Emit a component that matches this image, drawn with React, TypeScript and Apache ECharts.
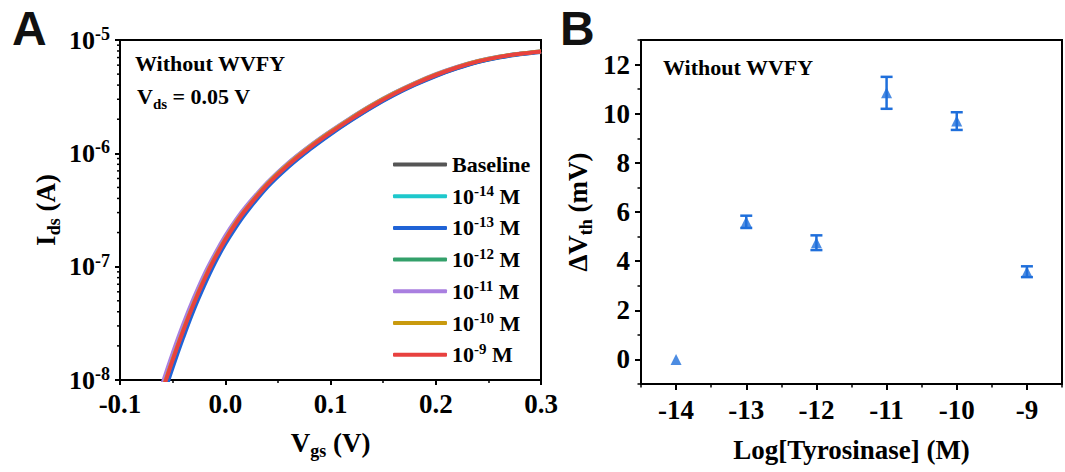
import React, { useEffect, useRef } from 'react';
import * as echarts from 'echarts';

// ---------- Panel A data ----------
const VGS = [-0.06, -0.05, -0.04, -0.03, -0.02, -0.01, 0, 0.01, 0.02, 0.04, 0.06, 0.08, 0.1, 0.12, 0.14, 0.16, 0.18, 0.2, 0.22, 0.24, 0.26, 0.28, 0.3];

const IDS_BASELINE = [7.6e-9, 1.45e-8, 2.62e-8, 4.53e-8, 7.4e-8, 1.14e-7, 1.67e-7, 2.33e-7, 3.12e-7, 5.14e-7, 7.71e-7, 1.09e-6, 1.49e-6, 1.98e-6, 2.59e-6, 3.28e-6, 4.04e-6, 4.85e-6, 5.65e-6, 6.41e-6, 7.03e-6, 7.5e-6, 7.86e-6];
const IDS_14 = [7.71e-9, 1.47e-8, 2.66e-8, 4.6e-8, 7.51e-8, 1.157e-7, 1.695e-7, 2.365e-7, 3.165e-7, 5.21e-7, 7.81e-7, 1.103e-6, 1.5e-6, 2.0e-6, 2.61e-6, 3.3e-6, 4.06e-6, 4.87e-6, 5.67e-6, 6.43e-6, 7.05e-6, 7.53e-6, 7.89e-6];
const IDS_13 = [6.69e-9, 1.28e-8, 2.35e-8, 4.13e-8, 6.8e-8, 1.07e-7, 1.58e-7, 2.22e-7, 3.0e-7, 5.03e-7, 7.57e-7, 1.074e-6, 1.47e-6, 1.96e-6, 2.56e-6, 3.25e-6, 4.0e-6, 4.8e-6, 5.6e-6, 6.37e-6, 6.99e-6, 7.46e-6, 7.83e-6];
const IDS_12 = [8.14e-9, 1.55e-8, 2.81e-8, 4.86e-8, 7.92e-8, 1.22e-7, 1.79e-7, 2.49e-7, 3.33e-7, 5.47e-7, 8.18e-7, 1.15e-6, 1.56e-6, 2.07e-6, 2.69e-6, 3.39e-6, 4.16e-6, 4.97e-6, 5.77e-6, 6.52e-6, 7.13e-6, 7.58e-6, 7.94e-6];
const IDS_11 = [9.16e-9, 1.73e-8, 3.11e-8, 5.28e-8, 8.53e-8, 1.29e-7, 1.87e-7, 2.59e-7, 3.43e-7, 5.54e-7, 8.27e-7, 1.16e-6, 1.57e-6, 2.08e-6, 2.7e-6, 3.41e-6, 4.18e-6, 5.0e-6, 5.8e-6, 6.55e-6, 7.15e-6, 7.6e-6, 7.95e-6];
const IDS_10 = [7.99e-9, 1.52e-8, 2.75e-8, 4.76e-8, 7.77e-8, 1.2e-7, 1.75e-7, 2.45e-7, 3.27e-7, 5.38e-7, 8.05e-7, 1.135e-6, 1.545e-6, 2.05e-6, 2.67e-6, 3.37e-6, 4.14e-6, 4.95e-6, 5.75e-6, 6.5e-6, 7.11e-6, 7.57e-6, 7.93e-6];
const IDS_9 = [7.83e-9, 1.49e-8, 2.7e-8, 4.67e-8, 7.62e-8, 1.175e-7, 1.72e-7, 2.4e-7, 3.21e-7, 5.28e-7, 7.91e-7, 1.117e-6, 1.52e-6, 2.02e-6, 2.63e-6, 3.33e-6, 4.09e-6, 4.9e-6, 5.7e-6, 6.46e-6, 7.08e-6, 7.55e-6, 7.91e-6];

const SERIES_NAMES = ['Baseline', '10^-14 M', '10^-13 M', '10^-12 M', '10^-11 M', '10^-10 M', '10^-9 M'];
const SERIES_VALUES = [IDS_BASELINE, IDS_14, IDS_13, IDS_12, IDS_11, IDS_10, IDS_9];
const SERIES_COLORS = ['#555555', '#1ec8cc', '#1f63d6', '#33a06a', '#a97fe0', '#c99a0e', '#e8413f'];

const LOG_MINOR_MANTISSA = [2, 3, 4, 5, 6, 7, 8, 9];
const LOG_DECADES = [1e-8, 1e-7, 1e-6];

// ---------- Panel B data ----------
const LOG_CONC = [-14, -13, -12, -11, -10, -9];
const DVTH = [0, 5.6, 4.75, 10.85, 9.7, 3.57];
const DVTH_ERR = [0, 0.25, 0.3, 0.65, 0.36, 0.22];

const FONT = '"Liberation Serif", "Times New Roman", serif';
const BLUE = '#1f6fdb';

export default function App() {
  const ref = useRef<HTMLDivElement>(null);

  useEffect(() => {
    document.body.style.margin = '0';
    const chart = echarts.init(ref.current as HTMLDivElement, null, { renderer: 'svg' });

    const minorTicks: number[][] = [];
    LOG_DECADES.forEach((d) => LOG_MINOR_MANTISSA.forEach((m) => minorTicks.push([-0.1, m * d])));

    const baseText = { fontFamily: FONT, fontWeight: 'bold', color: '#000' };

    const lineSeries = SERIES_NAMES.map((name, i) => ({
      name,
      type: 'line',
      xAxisIndex: 0,
      yAxisIndex: 0,
      data: VGS.map((v, j) => [v, SERIES_VALUES[i][j]]),
      symbol: 'none',
      smooth: 0.4,
      lineStyle: { color: SERIES_COLORS[i], width: 3.8 },
      itemStyle: { color: SERIES_COLORS[i] },
      z: 2 + i,
      silent: true,
    }));

    const errData = LOG_CONC.map((x, i) => [x, DVTH[i] - DVTH_ERR[i], DVTH[i] + DVTH_ERR[i]]).filter((d, i) => DVTH_ERR[i] > 0);

    const axisLineStyle = { onZero: false, lineStyle: { color: '#000', width: 2 } };

    const option: any = {
      animation: false,
      grid: [
        { left: 120, top: 40, width: 421, height: 340, show: true, borderColor: '#000', borderWidth: 2, containLabel: false },
        { left: 641, top: 40, width: 427, height: 346, show: true, borderColor: '#000', borderWidth: 2, containLabel: false },
      ],
      legend: {
        data: SERIES_NAMES,
        orient: 'vertical',
        left: 388,
        top: 148.5,
        icon: 'roundRect',
        itemWidth: 54,
        itemHeight: 4,
        itemGap: 7.7,
        selectedMode: false,
        formatter: (name: string) => {
          if (name === 'Baseline') return '{b|Baseline}';
          const m = name.match(/^10\^(-?\d+) M$/);
          return `{b|10}{sup|${m ? m[1] : ''}}{b| M}`;
        },
        textStyle: {
          ...baseText,
          fontSize: 22,
          rich: {
            b: { ...baseText, fontSize: 22, lineHeight: 26 },
            sup: { ...baseText, fontSize: 15, verticalAlign: 'top' },
          },
        },
      },
      xAxis: [
        {
          gridIndex: 0,
          type: 'value',
          min: -0.1,
          max: 0.3,
          interval: 0.1,
          axisLine: axisLineStyle,
          axisTick: { inside: false, length: 5, lineStyle: { width: 2, color: '#000' } },
          minorTick: { show: true, splitNumber: 2, length: 3, lineStyle: { width: 1.5, color: '#000' } },
          splitLine: { show: false },
          axisLabel: { ...baseText, fontSize: 27, margin: 10, formatter: (v: number) => v.toFixed(1) },
          name: '{b|V}{sub|gs}{b| (V)}',
          nameLocation: 'middle',
          nameGap: 46,
          nameTextStyle: {
            ...baseText,
            fontSize: 27,
            rich: {
              b: { ...baseText, fontSize: 27, lineHeight: 34 },
              sub: { ...baseText, fontSize: 18, verticalAlign: 'bottom' },
            },
          },
        },
        {
          gridIndex: 1,
          type: 'value',
          min: -14.5,
          max: -8.5,
          interval: 1,
          axisLine: axisLineStyle,
          axisTick: { inside: false, length: 3.5, lineStyle: { width: 1.5, color: '#000' } },
          minorTick: { show: true, splitNumber: 2, length: 6, lineStyle: { width: 2, color: '#000' } },
          splitLine: { show: false },
          axisLabel: { show: false },
          name: 'Log[Tyrosinase] (M)',
          nameLocation: 'middle',
          nameGap: 49,
          nameTextStyle: { ...baseText, fontSize: 27, lineHeight: 34 },
        },
        {
          gridIndex: 1,
          type: 'value',
          min: -14.5,
          max: -8.5,
          interval: 0.5,
          position: 'bottom',
          offset: 0,
          axisLine: { show: false, onZero: false },
          axisTick: { show: false },
          splitLine: { show: false },
          axisLabel: {
            ...baseText,
            fontSize: 27,
            margin: 12,
            formatter: (v: number) => (Math.abs(v - Math.round(v)) < 1e-6 ? `${Math.round(v)}` : ''),
          },
        },
      ],
      yAxis: [
        {
          gridIndex: 0,
          type: 'log',
          logBase: 10,
          min: 1e-8,
          max: 1e-5,
          axisLine: { show: true, ...axisLineStyle },
          axisTick: { show: true, inside: false, length: 5, lineStyle: { width: 2, color: '#000' } },
          splitLine: { show: false },
          axisLabel: {
            ...baseText,
            fontSize: 26,
            margin: 10,
            formatter: (v: number) => `{b|10}{sup|${Math.round(Math.log10(v))}}`,
            rich: {
              b: { ...baseText, fontSize: 26, lineHeight: 30 },
              sup: { ...baseText, fontSize: 18, verticalAlign: 'top' },
            },
          },
          name: '{b|I}{sub|ds}{b| (A)}',
          nameLocation: 'middle',
          nameRotate: 90,
          nameGap: 57,
          nameTextStyle: {
            ...baseText,
            fontSize: 27,
            rich: {
              b: { ...baseText, fontSize: 27, lineHeight: 34 },
              sub: { ...baseText, fontSize: 18, verticalAlign: 'bottom' },
            },
          },
        },
        {
          gridIndex: 1,
          type: 'value',
          min: -1,
          max: 13,
          interval: 2,
          axisLine: { show: true, ...axisLineStyle },
          axisTick: { show: true, inside: false, length: 3.5, lineStyle: { width: 1.5, color: '#000' } },
          minorTick: { show: true, splitNumber: 2, length: 6, lineStyle: { width: 2, color: '#000' } },
          splitLine: { show: false },
          axisLabel: { show: false },
          name: '{b|ΔV}{sub|th}{b| (mV)}',
          nameLocation: 'middle',
          nameRotate: 90,
          nameGap: 46,
          nameTextStyle: {
            ...baseText,
            fontSize: 27,
            rich: {
              b: { ...baseText, fontSize: 27, lineHeight: 34 },
              sub: { ...baseText, fontSize: 18, verticalAlign: 'bottom' },
            },
          },
        },
        {
          gridIndex: 1,
          type: 'value',
          min: -1,
          max: 13,
          interval: 1,
          position: 'left',
          offset: 0,
          axisLine: { show: false, onZero: false },
          axisTick: { show: false },
          splitLine: { show: false },
          axisLabel: {
            ...baseText,
            fontSize: 27,
            margin: 11,
            formatter: (v: number) => {
              const r = Math.round(v);
              return Math.abs(v - r) < 1e-6 && r % 2 === 0 ? `${r}` : '';
            },
          },
        },
      ],
      graphic: [
        { type: 'text', style: { x: 12, y: 28, text: 'A', fontFamily: '"Liberation Sans", Arial, sans-serif', fontWeight: 'bold', fontSize: 48, fill: '#111', verticalAlign: 'middle' } },
        { type: 'text', style: { x: 560, y: 28, text: 'B', fontFamily: '"Liberation Sans", Arial, sans-serif', fontWeight: 'bold', fontSize: 48, fill: '#111', verticalAlign: 'middle' } },
        { type: 'text', style: { x: 135, y: 63, text: 'Without WVFY', fontFamily: FONT, fontWeight: 'bold', fontSize: 22, fill: '#000', verticalAlign: 'middle' } },
        {
          type: 'text',
          style: {
            x: 137,
            y: 96,
            text: '{b|V}{sub|ds}{b| = 0.05 V}',
            verticalAlign: 'middle',
            rich: {
              b: { fontFamily: FONT, fontWeight: 'bold', fontSize: 22, lineHeight: 30, fill: '#000' },
              sub: { fontFamily: FONT, fontWeight: 'bold', fontSize: 15, verticalAlign: 'bottom', fill: '#000' },
            },
          },
        },
        { type: 'text', style: { x: 663, y: 67, text: 'Without WVFY', fontFamily: FONT, fontWeight: 'bold', fontSize: 22, fill: '#000', verticalAlign: 'middle' } },
      ],
      series: [
        ...lineSeries,
        {
          type: 'custom',
          xAxisIndex: 0,
          yAxisIndex: 0,
          data: minorTicks,
          clip: false,
          silent: true,
          z: 10,
          renderItem: (_p: any, api: any) => {
            const pt = api.coord([api.value(0), api.value(1)]);
            return {
              type: 'line',
              shape: { x1: pt[0] - 3, y1: pt[1], x2: pt[0], y2: pt[1] },
              style: { stroke: '#000', lineWidth: 1.5 },
            };
          },
        },
        {
          type: 'custom',
          xAxisIndex: 1,
          yAxisIndex: 1,
          data: errData,
          silent: true,
          z: 2,
          renderItem: (_p: any, api: any) => {
            const x = api.value(0);
            const lo = api.coord([x, api.value(1)]);
            const hi = api.coord([x, api.value(2)]);
            const w = 6;
            const st = { stroke: BLUE, lineWidth: 2.5 };
            return {
              type: 'group',
              children: [
                { type: 'line', shape: { x1: lo[0], y1: lo[1], x2: hi[0], y2: hi[1] }, style: st },
                { type: 'line', shape: { x1: lo[0] - w, y1: lo[1], x2: lo[0] + w, y2: lo[1] }, style: st },
                { type: 'line', shape: { x1: hi[0] - w, y1: hi[1], x2: hi[0] + w, y2: hi[1] }, style: st },
              ],
            };
          },
        },
        {
          type: 'scatter',
          xAxisIndex: 1,
          yAxisIndex: 1,
          data: LOG_CONC.map((x, i) => [x, DVTH[i]]),
          symbol: 'triangle',
          symbolSize: 11,
          itemStyle: { color: BLUE },
          silent: true,
          z: 3,
        },
      ],
    };

    chart.setOption(option);
    return () => chart.dispose();
  }, []);

  return <div ref={ref} style={{ width: 1065, height: 472 }} />;
}
